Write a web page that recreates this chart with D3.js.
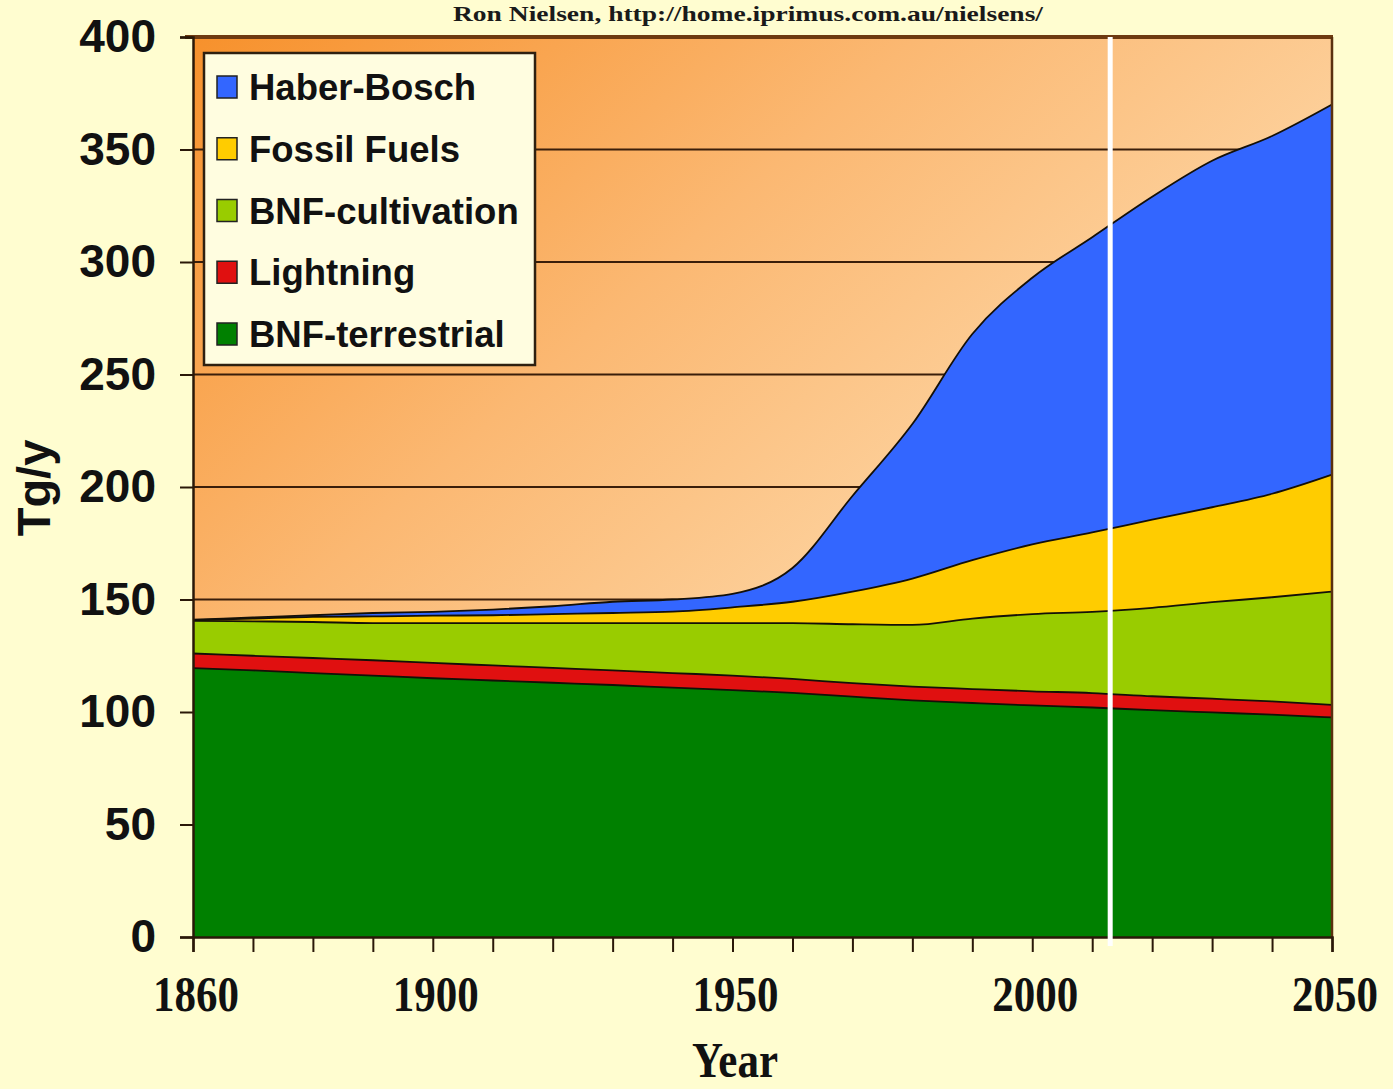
<!DOCTYPE html>
<html>
<head>
<meta charset="utf-8">
<script src="https://cdn.jsdelivr.net/npm/d3@7"></script>
<style>
  html, body { margin: 0; padding: 0; background: #FFFDD0; }
  svg { display: block; }
</style>
</head>
<body>
<svg id="chart" width="1393" height="1089"></svg>
<script>
// Global nitrogen fixation by source, Tg N per year
const years = [1860, 1870, 1880, 1890, 1900, 1910, 1920, 1930, 1940, 1950,
               1960, 1970, 1980, 1990, 2000, 2010, 2020, 2030, 2040, 2050];

const bnfTerrestrial = [119.5, 118.5, 117.3, 116.2, 115.0, 114.0, 113.0, 112.0, 110.8, 109.7,
                        108.5, 106.8, 105.2, 104.0, 102.9, 102.0, 100.8, 99.8, 98.8, 97.6];
const lightning      = [6.5, 6.5, 6.7, 6.8, 6.8, 6.7, 6.6, 6.5, 6.5, 6.5,
                        6.2, 6.0, 6.1, 6.2, 6.3, 6.4, 6.2, 6.1, 5.9, 5.6];
const bnfCultivation = [14.5, 15.3, 16.0, 16.5, 17.7, 18.8, 19.9, 21.0, 22.2, 23.3,
                        24.8, 26.2, 27.4, 31.3, 34.3, 36.1, 39.3, 42.9, 46.3, 50.3];
const fossilFuels    = [0.3, 1.2, 2.3, 3.0, 3.3, 3.5, 4.0, 4.5, 5.1, 7.0,
                        9.5, 14.5, 20.6, 26.0, 31.0, 35.3, 39.2, 42.2, 46.0, 52.0];
const haberBosch     = [0.2, 0.5, 0.7, 1.5, 1.7, 2.5, 3.5, 5.0, 5.4, 6.0,
                        15.0, 42.5, 68.7, 100.5, 118.5, 131.2, 143.5, 154.0, 159.0, 164.5];

// Stacking order, bottom to top
const seriesKeys   = ["BNF-terrestrial", "Lightning", "BNF-cultivation", "Fossil Fuels", "Haber-Bosch"];
const seriesColors = ["#008000", "#E01010", "#99CC00", "#FFCC00", "#3366FF"];
const legendOrder  = ["Haber-Bosch", "Fossil Fuels", "BNF-cultivation", "Lightning", "BNF-terrestrial"];

const yTicks = [0, 50, 100, 150, 200, 250, 300, 350, 400];
const gridValues = [50, 100, 150, 200, 250, 300, 350];
const xMinorTicks = [1860, 1870, 1880, 1890, 1900, 1910, 1920, 1930, 1940, 1950,
                     1960, 1970, 1980, 1990, 2000, 2010, 2020, 2030, 2040, 2050];
const xLabelTicks = [1860, 1900, 1950, 2000, 2050];
const markerYear = 2013;

const sourceNote = "Ron Nielsen, http://home.iprimus.com.au/nielsens/";

// ---------------------------------------------------------------
const rows = years.map((yr, i) => ({
  year: yr,
  "BNF-terrestrial": bnfTerrestrial[i],
  "Lightning": lightning[i],
  "BNF-cultivation": bnfCultivation[i],
  "Fossil Fuels": fossilFuels[i],
  "Haber-Bosch": haberBosch[i]
}));

const svg = d3.select("#chart");
const W = 1393, H = 1089;
const plot = { left: 193, right: 1332, top: 37, bottom: 937 };

const x = d3.scaleLinear().domain([1860, 2050]).range([plot.left, plot.right]);
const y = d3.scaleLinear().domain([0, 400]).range([plot.bottom, plot.top]);
const color = d3.scaleOrdinal().domain(seriesKeys).range(seriesColors);

svg.append("rect").attr("width", W).attr("height", H).attr("fill", "#FFFDD0");

// plot-area gradient
const defs = svg.append("defs");
const grad = defs.append("linearGradient")
  .attr("id", "plotBg").attr("x1", 0).attr("y1", 0).attr("x2", 0.8).attr("y2", 0.7);
grad.append("stop").attr("offset", 0).attr("stop-color", "#F7912C");
grad.append("stop").attr("offset", 0.45).attr("stop-color", "#FBB872");
grad.append("stop").attr("offset", 1).attr("stop-color", "#FEE0B6");

svg.append("rect")
  .attr("x", plot.left).attr("y", plot.top)
  .attr("width", plot.right - plot.left).attr("height", plot.bottom - plot.top)
  .attr("fill", "url(#plotBg)");

// horizontal gridlines
svg.append("g").selectAll("line").data(gridValues).join("line")
  .attr("x1", plot.left).attr("x2", plot.right)
  .attr("y1", d => y(d)).attr("y2", d => y(d))
  .attr("stroke", "#3A1E0A").attr("stroke-width", 2);

// stacked areas
const stack = d3.stack().keys(seriesKeys);
const layers = stack(rows);

const area = d3.area()
  .curve(d3.curveMonotoneX)
  .x(d => x(d.data.year))
  .y0(d => y(d[0]))
  .y1(d => y(d[1]));

svg.append("g").selectAll("path").data(layers).join("path")
  .attr("d", area)
  .attr("fill", d => color(d.key));

// boundary lines along the top of each layer
const topLine = d3.line()
  .curve(d3.curveMonotoneX)
  .x(d => x(d.data.year))
  .y(d => y(d[1]));

svg.append("g").selectAll("path").data(layers).join("path")
  .attr("d", topLine)
  .attr("fill", "none")
  .attr("stroke", "#141008")
  .attr("stroke-width", 1.8);

// frame: top and right edges
svg.append("line")
  .attr("x1", plot.left - 8).attr("x2", plot.right + 1)
  .attr("y1", plot.top).attr("y2", plot.top)
  .attr("stroke", "#6E3A10").attr("stroke-width", 4);
svg.append("line")
  .attr("x1", plot.right).attr("x2", plot.right)
  .attr("y1", plot.top).attr("y2", plot.bottom)
  .attr("stroke", "#5A300E").attr("stroke-width", 2.5);

// y axis
const yAxis = d3.axisLeft(y).tickValues(yTicks).tickSize(13).tickPadding(24).tickFormat(d3.format("d"));
const gy = svg.append("g").attr("transform", `translate(${plot.left},0)`).call(yAxis);
gy.select(".domain").attr("stroke", "#2A1808").attr("stroke-width", 2.5);
gy.selectAll(".tick line").attr("stroke", "#2A1808").attr("stroke-width", 2);
gy.selectAll(".tick text")
  .attr("font-family", "'Liberation Sans', Arial, sans-serif")
  .attr("font-weight", "bold")
  .attr("font-size", 46)
  .attr("fill", "#111");

// x axis: minor ticks every decade, labels on selected years
const xAxis = d3.axisBottom(x).tickValues(xMinorTicks).tickSize(15).tickFormat("");
const gx = svg.append("g").attr("transform", `translate(0,${plot.bottom})`).call(xAxis);
gx.select(".domain").attr("stroke", "#2A1808").attr("stroke-width", 2.5);
gx.selectAll(".tick line").attr("stroke", "#2A1808").attr("stroke-width", 2);

svg.append("g").selectAll("text").data(xLabelTicks).join("text")
  .attr("transform", d => `translate(${x(d) + 3},1011) scale(0.86,1)`)
  .attr("text-anchor", "middle")
  .attr("font-family", "'Liberation Serif', 'Times New Roman', serif")
  .attr("font-weight", "bold")
  .attr("font-size", 50)
  .attr("fill", "#111")
  .text(d => d);

// axis titles
svg.append("text")
  .attr("transform", "translate(735,1077) scale(0.86,1)")
  .attr("text-anchor", "middle")
  .attr("font-family", "'Liberation Serif', 'Times New Roman', serif")
  .attr("font-weight", "bold")
  .attr("font-size", 50)
  .attr("fill", "#111")
  .text("Year");

svg.append("text")
  .attr("transform", "translate(50,488) rotate(-90)")
  .attr("text-anchor", "middle")
  .attr("font-family", "'Liberation Sans', Arial, sans-serif")
  .attr("font-weight", "bold")
  .attr("font-size", 47)
  .attr("fill", "#111")
  .text("Tg/y");

// source note
svg.append("text")
  .attr("x", 748).attr("y", 21)
  .attr("text-anchor", "middle")
  .attr("font-family", "'Liberation Serif', 'Times New Roman', serif")
  .attr("font-weight", "bold")
  .attr("font-size", 22)
  .attr("textLength", 590)
  .attr("lengthAdjust", "spacingAndGlyphs")
  .attr("fill", "#1a1a1a")
  .text(sourceNote);

// present-day marker
svg.append("line")
  .attr("x1", x(markerYear)).attr("x2", x(markerYear))
  .attr("y1", plot.top).attr("y2", plot.bottom + 9)
  .attr("stroke", "#FFFFFF").attr("stroke-width", 5);

// legend
const legend = svg.append("g");
legend.append("rect")
  .attr("x", 204).attr("y", 53).attr("width", 331).attr("height", 312)
  .attr("fill", "#FFFDE0").attr("stroke", "#2E2010").attr("stroke-width", 2.5);

const rowY = d3.scalePoint().domain(legendOrder).range([87, 334]);
const items = legend.selectAll("g.item").data(legendOrder).join("g")
  .attr("class", "item")
  .attr("transform", d => `translate(0,${rowY(d)})`);
items.append("rect")
  .attr("x", 217).attr("y", -11).attr("width", 20).attr("height", 22)
  .attr("fill", d => color(d)).attr("stroke", "#222").attr("stroke-width", 1.5);
items.append("text")
  .attr("x", 249).attr("y", 0)
  .attr("dy", "0.36em")
  .attr("font-family", "'Liberation Sans', Arial, sans-serif")
  .attr("font-weight", "bold")
  .attr("font-size", 36.5)
  .attr("fill", "#111")
  .text(d => d);
</script>
</body>
</html>
